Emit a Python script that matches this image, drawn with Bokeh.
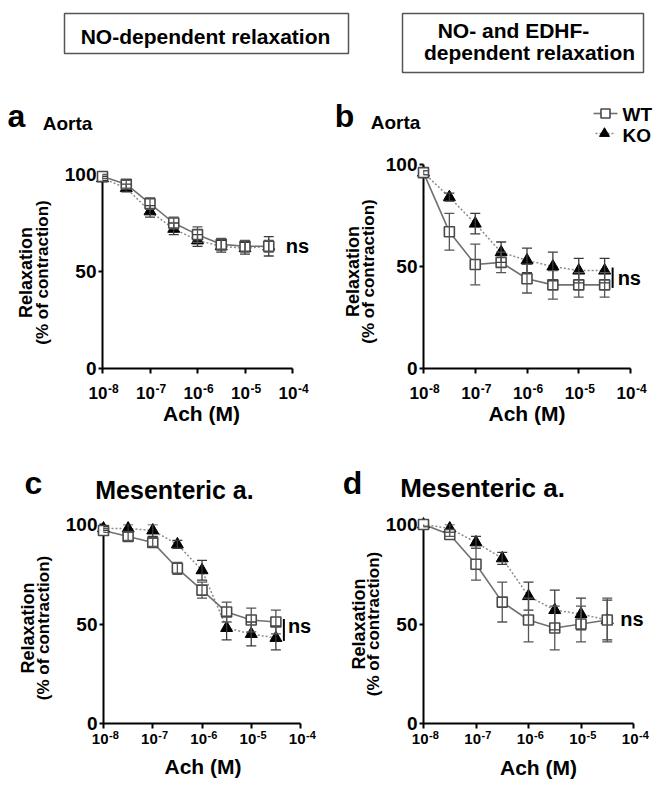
from math import pi
from bokeh.plotting import figure
from bokeh.models import (Range1d, FixedTicker, Whisker, TeeHead, ColumnDataSource)
from bokeh.layouts import column, row
from bokeh.core.properties import value
from bokeh.embed import file_html
from bokeh.resources import INLINE

FONT = "Liberation Sans"

# ---------------- data ----------------
log_ach = [-8, -7.5, -7, -6.5, -6, -5.5, -5, -4.5]          # log10 [Ach] (M)
x_ticks = [-8, -7, -6, -5, -4]
x_tick_base = "10"
x_tick_exps = ["-8", "-7", "-6", "-5", "-4"]
y_ticks = [0, 50, 100]
series_names = ["WT", "KO"]

# a: Aorta, NO-dependent
wt_a = [99, 95, 85, 75, 69, 64, 63, 63]
wt_a_err = [1, 2, 3, 3, 4, 3, 3, 3]
ko_a = [98, 93, 81, 72, 66, 63, 62, 63]
ko_a_err = [1, 2, 3, 3, 3, 3, 3, 5]

# b: Aorta, NO- and EDHF-dependent
wt_b = [96, 67, 51, 52, 44, 41, 41, 41]
wt_b_err = [1, 9, 10, 5, 7, 7, 6, 6]
ko_b = [96, 84, 71, 57, 53, 50, 48, 48]
ko_b_err = [1, 2, 5, 5, 6, 7, 6, 6]

# c: Mesenteric a., NO-dependent
wt_c = [97, 94, 91, 78, 67, 56, 52, 51]
wt_c_err = [1, 2, 2, 3, 4, 5, 6, 6]
ko_c = [98, 98, 97, 90, 77, 48, 45, 43]
ko_c_err = [1, 2, 3, 2, 5, 6, 6, 6]

# d: Mesenteric a., NO- and EDHF-dependent
wt_d = [100, 95, 80, 61, 52, 48, 50, 52]
wt_d_err = [1, 1, 8, 10, 11, 11, 9, 11]
ko_d = [100, 98, 91, 83, 64, 57, 55, 52]
ko_d_err = [1, 2, 3, 3, 7, 10, 8, 10]

header_texts = ["NO-dependent relaxation", "NO- and EDHF-", "dependent relaxation"]

WT_STYLE = dict(line_color="#707070", line_width=1.6)
KO_STYLE = dict(line_color="#8c8c8c", line_width=1.5, line_dash="2 2")


def make_panel(cfg, wt, wt_err, ko, ko_err):
    W, H, bl, br, bt, bb = cfg["geom"]
    extra = cfg.get("extra_top", 0)        # frame grows upward (axis still 0-100)
    fw, fh = W - bl - br, H - bt - bb
    kx, ky = fw / 4.0, fh / 100.0          # pixels per data unit

    def dpos(x, y, dx, dy):                 # pixel offsets -> data position (dy down)
        return x + dx / kx, y - dy / ky

    p = figure(width=W, height=H, x_range=Range1d(-8, -4),
               y_range=Range1d(0, 100 + extra / ky),
               output_backend="svg", toolbar_location=None,
               min_border_left=bl, min_border_right=br,
               min_border_top=bt - extra, min_border_bottom=bb)
    p.outline_line_color = None
    p.grid.visible = False
    p.background_fill_color = "white"
    p.border_fill_color = "white"

    def txt(text, x, y, dx, dy, size, align="center", angle=0):
        X, Y = dpos(x, y, dx, dy)
        p.text(x=[X], y=[Y], text=[text], text_font=value(FONT),
               text_font_style="bold", text_font_size=f"{size}px",
               text_align=align, text_baseline="middle", angle=angle,
               text_color="black", level="overlay")

    for ax in (p.xaxis[0], p.yaxis[0]):
        ax.axis_line_width = 2
        ax.axis_line_color = "black"
        ax.major_tick_line_width = 2
        ax.major_tick_line_color = "black"
        ax.major_tick_in = 0
        ax.minor_tick_in = 0
        ax.minor_tick_out = 0
        ax.major_label_text_font = FONT
        ax.major_label_text_font_style = "bold"
        ax.major_label_text_color = "black"
    p.xaxis.ticker = FixedTicker(ticks=x_ticks)
    p.xaxis.major_label_overrides = {t: "" for t in x_ticks}
    p.xaxis.major_tick_out = 5
    p.yaxis.ticker = FixedTicker(ticks=y_ticks)
    p.yaxis.bounds = (0, 100)
    p.yaxis.major_tick_out = 4
    p.yaxis.major_label_standoff = 2
    p.yaxis.major_label_text_font_size = "19px"

    # x tick labels: 10 with superscript exponent
    fs_main, fs_sup, dy_main, dy_sup = cfg["xtick"]
    for t, e in zip(x_ticks, x_tick_exps):
        txt(x_tick_base, t, 0, 5, dy_main, fs_main, align="right")
        txt(e, t, 0, 5.5, dy_sup, fs_sup, align="left")

    # lines
    p.line(log_ach, ko, level="overlay", **KO_STYLE)
    p.line(log_ach, wt, level="overlay", **WT_STYLE)

    # error bars
    for vals, errs, col in ((ko, ko_err, "#3a3a3a"), (wt, wt_err, "#555555")):
        src = ColumnDataSource(dict(x=log_ach,
                                    upper=[v + e for v, e in zip(vals, errs)],
                                    lower=[v - e for v, e in zip(vals, errs)]))
        w = Whisker(source=src, base="x", upper="upper", lower="lower",
                    line_color=col, line_width=1.3, level="overlay",
                    upper_head=TeeHead(size=10, line_color=col, line_width=1.3),
                    lower_head=TeeHead(size=10, line_color=col, line_width=1.3))
        p.add_layout(w)

    p.scatter(log_ach, ko, marker="triangle", size=12, fill_color="black",
              line_color="black", level="overlay")
    p.scatter(log_ach, wt, marker="square", size=10, fill_color="white",
              line_color="#4a4a4a", line_width=1.6, level="overlay")

    # texts
    txt(cfg["letter"], -8, 100, cfg["letter_pos"][0], cfg["letter_pos"][1], 32)
    txt(cfg["title"], -8, 100, cfg["title_pos"][0], cfg["title_pos"][1], cfg["title_fs"])
    txt("Relaxation", -8, 50, cfg["ylab"][0], cfg["ylab"][2], 18, angle=pi / 2)
    txt("(% of contraction)", -8, 50, cfg["ylab"][1], cfg["ylab"][2], 17, angle=pi / 2)
    txt("Ach (M)", -6, 0, cfg["xlab"][0], cfg["xlab"][1], 21)
    mean_last = (wt[-1] + ko[-1]) / 2
    txt("ns", log_ach[-1], mean_last, cfg["ns"][0], cfg["ns"][1], 20, align="left")
    if cfg.get("bracket"):
        bx, _ = dpos(log_ach[-1], 0, cfg["bracket"], 0)
        p.segment(x0=[bx], y0=[min(wt[-1], ko[-1]) - 1.5], x1=[bx],
                  y1=[max(wt[-1], ko[-1]) + 1.5], line_color="black",
                  line_width=2, level="overlay")
    if cfg.get("legend"):
        lx0, lx1, mx, tx, ry_wt, ry_ko = cfg["legend"]
        a0 = dpos(-8, 100, lx0, ry_wt)
        a1 = dpos(-8, 100, lx1, ry_wt)
        am = dpos(-8, 100, mx, ry_wt)
        p.line([a0[0], a1[0]], [a0[1], a1[1]], level="overlay", **WT_STYLE)
        p.scatter([am[0]], [am[1]], marker="square", size=9, fill_color="white",
                  line_color="#4a4a4a", line_width=1.6, level="overlay")
        txt(series_names[0], -8, 100, tx, ry_wt + 1, 19, align="left")
        b0 = dpos(-8, 100, lx0 + 2, ry_ko)
        b1 = dpos(-8, 100, lx1 - 4, ry_ko)
        bm = dpos(-8, 100, mx - 1, ry_ko)
        p.line([b0[0], b1[0]], [b0[1], b1[1]], level="overlay", **KO_STYLE)
        p.scatter([bm[0]], [bm[1]], marker="triangle", size=10, fill_color="black",
                  line_color="black", level="overlay")
        txt(series_names[1], -8, 100, tx, ry_ko + 2, 19, align="left")
    return p


# geom = (width, height, border_left, border_right, border_top_to_100, border_bottom)
cfg_a = dict(geom=(330, 348, 102, 38, 82, 72), extra_top=71, letter="a",
             letter_pos=(-86, -59), title="Aorta", title_pos=(-35, -51), title_fs=19,
             ylab=(-77, -60, 1), xlab=(4, 45), xtick=(17, 12, 24.5, 20), ns=(17, 0))
cfg_b = dict(geom=(331, 348, 93, 31, 72, 72), extra_top=61, letter="b",
             letter_pos=(-79, -49), title="Aorta", title_pos=(-28, -42.5), title_fs=19,
             ylab=(-71, -55, 5), xlab=(0, 45), xtick=(17, 12, 24.5, 20), ns=(13, 0),
             bracket=8, legend=(170, 194, 182, 199, -51, -31))
cfg_c = dict(geom=(330, 345, 103, 30, 84, 62), letter="c", letter_pos=(-70, -42),
             title="Mesenteric a.", title_pos=(71, -35), title_fs=25,
             ylab=(-76, -60, 4), xlab=(1, 42.5), xtick=(15, 11, 15.5, 11.5),
             ns=(12, -4), bracket=8)
cfg_d = dict(geom=(331, 345, 93, 28, 84, 62), letter="d", letter_pos=(-71, -41.5),
             title="Mesenteric a.", title_pos=(59, -36.5), title_fs=26,
             ylab=(-65, -50, 0), xlab=(10, 44), xtick=(15, 11, 15.5, 11.5),
             ns=(13, -1))

pa = make_panel(cfg_a, wt_a, wt_a_err, ko_a, ko_a_err)
pb = make_panel(cfg_b, wt_b, wt_b_err, ko_b, ko_b_err)
pc = make_panel(cfg_c, wt_c, wt_c_err, ko_c, ko_c_err)
pd = make_panel(cfg_d, wt_d, wt_d_err, ko_d, ko_d_err)

# header with the two boxed captions
hd = figure(width=661, height=92, x_range=Range1d(0, 661), y_range=Range1d(92, 0),
            x_axis_location=None, y_axis_location=None, min_border=0,
            output_backend="svg", toolbar_location=None)
hd.outline_line_color = None
hd.grid.visible = False
hd.quad(left=[64, 402], right=[348, 643], top=[13, 13], bottom=[53, 72],
        fill_color="white", line_color="#555555", line_width=1.5)
hd.text(x=[205, 513, 529], y=[36, 30, 52], text=header_texts,
        text_align="center", text_baseline="middle",
        text_font=value(FONT), text_font_style="bold", text_font_size="21px",
        text_color="black")

layout = column(hd, row(pa, pb), row(pc, pd))
open("out.html", "w").write(file_html(layout, INLINE))
